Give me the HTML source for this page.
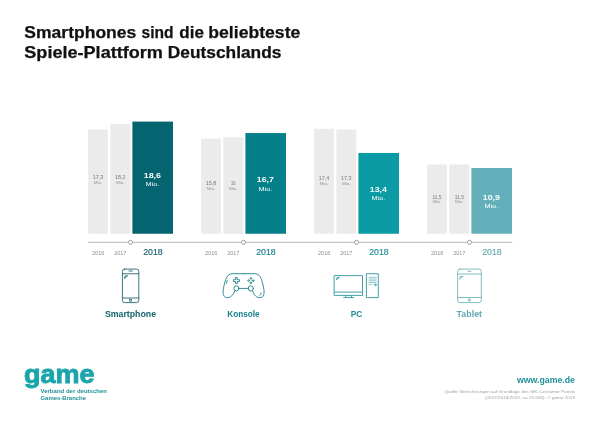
<!DOCTYPE html>
<html lang="de"><head><meta charset="utf-8"><title>Smartphones sind die beliebteste Spiele-Plattform Deutschlands</title>
<style>
html,body{margin:0;padding:0;background:#fff;}
body{width:600px;height:424px;overflow:hidden;}
svg{display:block;font-family:"Liberation Sans",sans-serif;}
.t{font-weight:bold;fill:#111;stroke:#111;stroke-width:.25;font-size:16.2px;}
.gn{fill:#858585;stroke:#858585;stroke-width:.06;font-size:5.2px;text-anchor:middle;}
.gm{fill:#969696;font-size:3.5px;text-anchor:middle;}
.bn{fill:#fff;font-size:7.8px;font-weight:bold;text-anchor:middle;}
.bm{fill:#fff;font-size:5.9px;text-anchor:middle;}
.y{fill:#8e8e8e;font-size:5.4px;text-anchor:middle;}
.y8{font-size:8.4px;text-anchor:middle;stroke-width:.15;}
.c{font-size:8.4px;font-weight:bold;text-anchor:middle;}
.ic{fill:none;stroke-width:.95;stroke-linecap:round;stroke-linejoin:round;}
</style></head><body>
<svg width="600" height="424" viewBox="0 0 600 424">
<rect width="600" height="424" fill="#fff"/>
<text class="t" y="37.5"><tspan id="w1" x="24.3" textLength="112" lengthAdjust="spacingAndGlyphs">Smartphones</tspan> <tspan id="w2" x="141.5" textLength="32" lengthAdjust="spacingAndGlyphs">sind</tspan> <tspan id="w3" x="179.3" textLength="24.6" lengthAdjust="spacingAndGlyphs">die</tspan> <tspan id="w4" x="208.3" textLength="92" lengthAdjust="spacingAndGlyphs">beliebteste</tspan></text>
<text class="t" y="58"><tspan id="w5" x="24.3" textLength="138.6" lengthAdjust="spacingAndGlyphs">Spiele-Plattform</tspan> <tspan id="w6" x="167.8" textLength="113.6" lengthAdjust="spacingAndGlyphs">Deutschlands</tspan></text>

<line x1="88" y1="242.3" x2="512.3" y2="242.3" stroke="#a4a4a4" stroke-width="0.8"/>
<rect x="88.1" y="129.43" width="19.8" height="104.32" fill="#ebebeb"/>
<text class="gn" x="98.0" y="178.7" textLength="10.4" lengthAdjust="spacingAndGlyphs">17,3</text>
<text class="gm" x="98.0" y="183.70000000000002" textLength="8.6" lengthAdjust="spacingAndGlyphs">Mio.</text>
<rect x="110.3" y="124.00" width="20" height="109.75" fill="#ebebeb"/>
<text class="gn" x="120.3" y="178.7" textLength="10.4" lengthAdjust="spacingAndGlyphs">18,2</text>
<text class="gm" x="120.3" y="183.70000000000002" textLength="8.6" lengthAdjust="spacingAndGlyphs">Mio.</text>
<rect x="132.4" y="121.59" width="40.6" height="112.16" fill="#046571"/>
<text class="bn" x="152.4" y="177.5" textLength="17.2" lengthAdjust="spacingAndGlyphs">18,6</text>
<text class="bm" x="152.4" y="185.5" textLength="13.6" lengthAdjust="spacingAndGlyphs">Mio.</text>
<circle cx="130.5" cy="242.3" r="2.05" fill="#fff" stroke="#8e8e8e" stroke-width="0.8"/>
<text class="y" x="98.2" y="254.8" textLength="12.6" lengthAdjust="spacingAndGlyphs">2016</text>
<text class="y" x="120.3" y="254.8" textLength="12.2" lengthAdjust="spacingAndGlyphs">2017</text>
<text class="y8" x="152.9" y="254.9" fill="#16636f" stroke="#16636f" textLength="19.5" lengthAdjust="spacingAndGlyphs">2018</text>
<text class="c" x="130.5" y="317" fill="#16636f" textLength="51.2" lengthAdjust="spacingAndGlyphs">Smartphone</text>
<rect x="201.1" y="138.48" width="19.8" height="95.27" fill="#ebebeb"/>
<text class="gn" x="211.0" y="184.7" textLength="10.4" lengthAdjust="spacingAndGlyphs">15,8</text>
<text class="gm" x="211.0" y="190.1" textLength="8.6" lengthAdjust="spacingAndGlyphs">Mio.</text>
<rect x="223.3" y="137.27" width="20" height="96.48" fill="#ebebeb"/>
<text class="gn" x="233.3" y="184.7" textLength="4.4" lengthAdjust="spacingAndGlyphs">16</text>
<text class="gm" x="233.3" y="190.1" textLength="8.6" lengthAdjust="spacingAndGlyphs">Mio.</text>
<rect x="245.4" y="133.05" width="40.6" height="100.70" fill="#05808a"/>
<text class="bn" x="265.4" y="182.2" textLength="17.2" lengthAdjust="spacingAndGlyphs">16,7</text>
<text class="bm" x="265.4" y="190.5" textLength="13.6" lengthAdjust="spacingAndGlyphs">Mio.</text>
<circle cx="243.5" cy="242.3" r="2.05" fill="#fff" stroke="#8e8e8e" stroke-width="0.8"/>
<text class="y" x="211.2" y="254.8" textLength="12.6" lengthAdjust="spacingAndGlyphs">2016</text>
<text class="y" x="233.3" y="254.8" textLength="12.2" lengthAdjust="spacingAndGlyphs">2017</text>
<text class="y8" x="265.9" y="254.9" fill="#17808a" stroke="#17808a" textLength="19.5" lengthAdjust="spacingAndGlyphs">2018</text>
<text class="c" x="243.5" y="317" fill="#17808a" textLength="32.4" lengthAdjust="spacingAndGlyphs">Konsole</text>
<rect x="314.1" y="128.83" width="19.8" height="104.92" fill="#ebebeb"/>
<text class="gn" x="324.0" y="180" textLength="10.4" lengthAdjust="spacingAndGlyphs">17,4</text>
<text class="gm" x="324.0" y="185.4" textLength="8.6" lengthAdjust="spacingAndGlyphs">Mio.</text>
<rect x="336.3" y="129.43" width="20" height="104.32" fill="#ebebeb"/>
<text class="gn" x="346.3" y="180" textLength="10.4" lengthAdjust="spacingAndGlyphs">17,3</text>
<text class="gm" x="346.3" y="185.4" textLength="8.6" lengthAdjust="spacingAndGlyphs">Mio.</text>
<rect x="358.4" y="152.95" width="40.6" height="80.80" fill="#0a9ba5"/>
<text class="bn" x="378.4" y="192" textLength="17.2" lengthAdjust="spacingAndGlyphs">13,4</text>
<text class="bm" x="378.4" y="200.2" textLength="13.6" lengthAdjust="spacingAndGlyphs">Mio.</text>
<circle cx="356.5" cy="242.3" r="2.05" fill="#fff" stroke="#8e8e8e" stroke-width="0.8"/>
<text class="y" x="324.2" y="254.8" textLength="12.6" lengthAdjust="spacingAndGlyphs">2016</text>
<text class="y" x="346.3" y="254.8" textLength="12.2" lengthAdjust="spacingAndGlyphs">2017</text>
<text class="y8" x="378.9" y="254.9" fill="#1d8d95" stroke="#1d8d95" textLength="19.5" lengthAdjust="spacingAndGlyphs">2018</text>
<text class="c" x="356.6" y="317" fill="#1d8d95" textLength="11.6" lengthAdjust="spacingAndGlyphs">PC</text>
<rect x="427.1" y="164.41" width="19.8" height="69.34" fill="#ebebeb"/>
<text class="gn" x="437.0" y="198.7" textLength="9.2" lengthAdjust="spacingAndGlyphs">11,5</text>
<text class="gm" x="437.0" y="203.4" textLength="8.6" lengthAdjust="spacingAndGlyphs">Mio.</text>
<rect x="449.3" y="164.41" width="20" height="69.34" fill="#ebebeb"/>
<text class="gn" x="459.3" y="198.7" textLength="9.2" lengthAdjust="spacingAndGlyphs">11,5</text>
<text class="gm" x="459.3" y="203.4" textLength="8.6" lengthAdjust="spacingAndGlyphs">Mio.</text>
<rect x="471.4" y="168.02" width="40.6" height="65.73" fill="#63b0bb"/>
<text class="bn" x="491.4" y="200" textLength="17.2" lengthAdjust="spacingAndGlyphs">10,9</text>
<text class="bm" x="491.4" y="208.0" textLength="13.6" lengthAdjust="spacingAndGlyphs">Mio.</text>
<circle cx="469.5" cy="242.3" r="2.05" fill="#fff" stroke="#8e8e8e" stroke-width="0.8"/>
<text class="y" x="437.2" y="254.8" textLength="12.6" lengthAdjust="spacingAndGlyphs">2016</text>
<text class="y" x="459.3" y="254.8" textLength="12.2" lengthAdjust="spacingAndGlyphs">2017</text>
<text class="y8" x="491.9" y="254.9" fill="#66a8b4" stroke="#66a8b4" textLength="19.5" lengthAdjust="spacingAndGlyphs">2018</text>
<text class="c" x="469.3" y="317" fill="#66a8b4" textLength="25.6" lengthAdjust="spacingAndGlyphs">Tablet</text>
<g class="ic" stroke="#2d6f79">
<rect x="122.4" y="269.1" width="16.4" height="33.5" rx="2.2"/>
<line x1="122.4" y1="273.8" x2="138.8" y2="273.8"/>
<line x1="122.4" y1="298" x2="138.8" y2="298"/>
<line x1="129" y1="271" x2="132.4" y2="271"/>
<rect x="129.5" y="299.4" width="2.2" height="1.9" rx=".5"/>
<path d="M124.6 278.4 L125 276 L127.6 275.8 M125.4 277.6 L126.6 276.6"/>
</g>
<g class="ic" stroke="#2b8790">
<path d="M243.6 273.7 H254.6 C258.4 273.7 260.4 276 261.5 279.6 C262.9 284 264.1 288.5 264.1 292.3 C264.1 295.8 262.5 297.8 260.0 297.8 C257.4 297.8 255.79999999999998 296.4 254.4 294.6 L252.2 290.6 M243.6 273.7 H232.6 C228.79999999999998 273.7 226.79999999999998 276 225.7 279.6 C224.29999999999998 284 223.1 288.5 223.1 292.3 C223.1 295.8 224.7 297.8 227.2 297.8 C229.79999999999998 297.8 231.4 296.4 232.79999999999998 294.6 L235.0 290.6"/>
<circle cx="236.4" cy="288.4" r="2.6"/>
<circle cx="250.79999999999998" cy="288.4" r="2.6"/>
<line x1="239.0" y1="288.4" x2="248.2" y2="288.4"/>
<path d="M235.5 277.6 h1.8 v2.1 h2.1 v1.8 h-2.1 v2.1 h-1.8 v-2.1 h-2.1 v-1.8 h2.1 z"/>
<circle cx="250.79999999999998" cy="278.40000000000003" r=".85"/><circle cx="250.79999999999998" cy="282.8" r=".85"/><circle cx="248.6" cy="280.6" r=".85"/><circle cx="252.99999999999997" cy="280.6" r=".85"/>
<path d="M261.0 292.8 C261.2 294 260.8 294.9 259.8 295.3"/>
<path d="M227.2 280.6 L226.4 283.4"/>
</g>
<g class="ic" stroke="#3a9ca3">
<rect x="334.5" y="275.6" width="28" height="19.8"/>
<line x1="334.5" y1="292.1" x2="362.5" y2="292.1"/>
<path d="M345.8 295.4 V297.6 M351.4 295.4 V297.6 M343.6 297.6 H353.6"/>
<path d="M336.6 279.6 L337 277.6 L339.4 277.4 M337.4 278.9 L338.5 278"/>
<rect x="366.8" y="273.7" width="11.5" height="23.9"/>
<path stroke-width=".55" d="M369 277.3 H376.2 M369 279 H376.2 M369 280.8 H376.2 M369 282.5 H376.2 M369 284.7 H372.2"/>
<circle cx="375.4" cy="284.8" r=".8"/>
</g>
<g class="ic" stroke="#7ab6c0">
<rect x="457.7" y="269.1" width="23.6" height="33.5" rx="2.2"/>
<line x1="457.7" y1="274" x2="481.3" y2="274"/>
<line x1="457.7" y1="297.5" x2="481.3" y2="297.5"/>
<line x1="468" y1="271.3" x2="471" y2="271.3"/>
<rect x="468.4" y="299.3" width="2.2" height="1.8" rx=".5"/>
<path d="M459.8 279 L460.2 276.6 L463 276.4 M460.6 278.2 L461.8 277.2"/>
</g>
<text id="logo" x="24" y="382.6" font-size="26.4" font-weight="bold" fill="#1aa5aa" stroke="#1aa5aa" stroke-width=".9" textLength="70.6" lengthAdjust="spacingAndGlyphs">game</text>
<text id="s1" x="40.5" y="393.2" font-size="6" font-weight="bold" fill="#1f8f98" textLength="66.5" lengthAdjust="spacingAndGlyphs">Verband der deutschen</text>
<text id="s2" x="40.5" y="400.3" font-size="6" font-weight="bold" fill="#1f8f98" textLength="45.5" lengthAdjust="spacingAndGlyphs">Games-Branche</text>
<text id="www" x="575" y="383" font-size="8.6" font-weight="bold" fill="#1f929a" text-anchor="end" textLength="58" lengthAdjust="spacingAndGlyphs">www.game.de</text>
<text id="q1" x="575" y="393" font-size="3.6" fill="#a0a0a0" text-anchor="end" textLength="130.5" lengthAdjust="spacingAndGlyphs">Quelle: Berechnungen auf Grundlage des GfK Consumer Panels</text>
<text id="q2" x="575" y="399.1" font-size="3.6" fill="#a0a0a0" text-anchor="end" textLength="90" lengthAdjust="spacingAndGlyphs">(2017/2018/2019; n= 25.000). © game 2019</text>

</svg></body></html>
